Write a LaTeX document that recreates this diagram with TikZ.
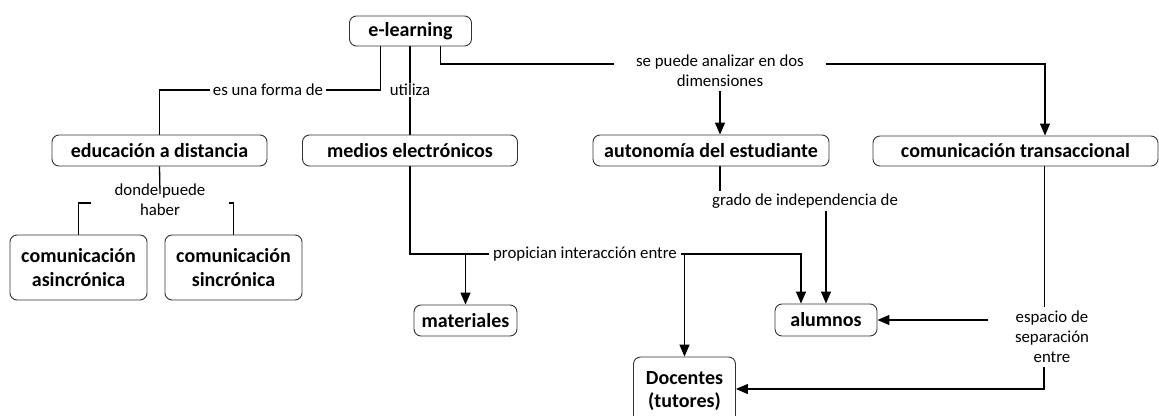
\documentclass[tikz,border=0pt]{standalone}
\usepackage{fontspec}
\setmainfont{Carlito}
\usetikzlibrary{arrows.meta,calc}
\pgfdeclarelayer{bg}
\pgfsetlayers{bg,main}
\begin{document}
\begin{tikzpicture}[x=1pt,y=-1pt,
 box/.style={draw=black!80,line width=0.9pt,rounded corners=7pt,font=\fontsize{20}{23.5}\selectfont\bfseries,align=center,inner sep=0pt},
 lbl/.style={font=\fontsize{16.8}{20}\selectfont,align=center,fill=white,inner xsep=3pt,inner ysep=1pt},
 con/.style={line width=1.3pt},
 arr/.style={con,-{Triangle[width=10pt,length=12pt]}}]
\useasboundingbox (0,0) rectangle (1159,415);

% concept boxes
\node[box,minimum width=122,minimum height=30] (el) at (410.5,31) {e-learning};
\node[box,minimum width=215,minimum height=31] (edu) at (159.5,150.5) {educación a distancia};
\node[box,minimum width=215,minimum height=31] (med) at (410,150.5) {medios electrónicos};
\node[box,minimum width=236,minimum height=31] (aut) at (711,150.5) {autonomía del estudiante};
\node[box,minimum width=285,minimum height=30] (tra) at (1015.5,151) {comunicación transaccional};
\node[box,minimum width=137,minimum height=65] (asi) at (78.5,267.5) {comunicación\\asincrónica};
\node[box,minimum width=137,minimum height=65] (sin) at (233.5,267.5) {comunicación\\sincrónica};
\node[box,minimum width=103,minimum height=31] (mat) at (465.5,320.5) {materiales};
\node[box,minimum width=102,minimum height=32] (alu) at (826,320) {alumnos};
\node[box,minimum width=102,minimum height=68] (doc) at (684.5,391) {Docentes\\(tutores)};

% link labels
\node[lbl] (l1) at (268,90) {es una forma de};
\node[lbl] (l2) at (410,90) {utiliza};
\node[lbl,inner xsep=22pt,inner ysep=4pt] (l3) at (720,71) {se puede analizar en dos\\dimensiones};
\node[lbl,inner xsep=24pt] (l4) at (160,200) {donde puede\\haber};
\node[lbl,inner xsep=4pt] (l5) at (585,254) {propician interacción entre};
\node[lbl,fill=none,inner ysep=3pt] (l6) at (805,201) {grado de independencia de};
\node[lbl,fill=none,inner xsep=27pt,inner ysep=4pt] (l7) at (1052,337) {espacio de\\separación\\entre};

\coordinate (c3) at (1045,64);
\coordinate (c4) at (160,194);
\coordinate (c5) at (160,203);
\coordinate (j1) at (801,254);

\begin{pgfonlayer}{bg}
\draw[con] ([xshift=-30pt]el.south) |- (edu.north |- l1) -- (edu.north);
\draw[con] (med.north |- el.south) -- (med.north);
\draw[arr] ([xshift=30pt]el.south) |- (c3) -- (c3 |- tra.north);
\draw[arr] (l3.south) -- (l3.south |- aut.north);
\draw[con] (asi.north) |- (c5) -| (sin.north);
\draw[arr] (med.south) |- (j1) -- (j1 |- alu.north);
\draw[arr] (mat.north |- j1) -- (mat.north);
\draw[arr] (doc.north |- j1) -- (doc.north);
\draw[con] ([xshift=9pt]aut.south) -- ([xshift=9pt]aut.south |- l6.north);
\draw[arr] (l6.south -| alu.north) -- (alu.north);
\draw[con] ([xshift=29pt]tra.south) -- ([xshift=29pt]tra.south |- l7.north);
\draw[arr] (l7.west |- alu.east) -- (alu.east);
\draw[arr] ([xshift=-8pt]l7.south) |- ([yshift=2pt]doc.east);
\end{pgfonlayer}
\draw[con] (edu.south) -- (c4);
\end{tikzpicture}
\end{document}
